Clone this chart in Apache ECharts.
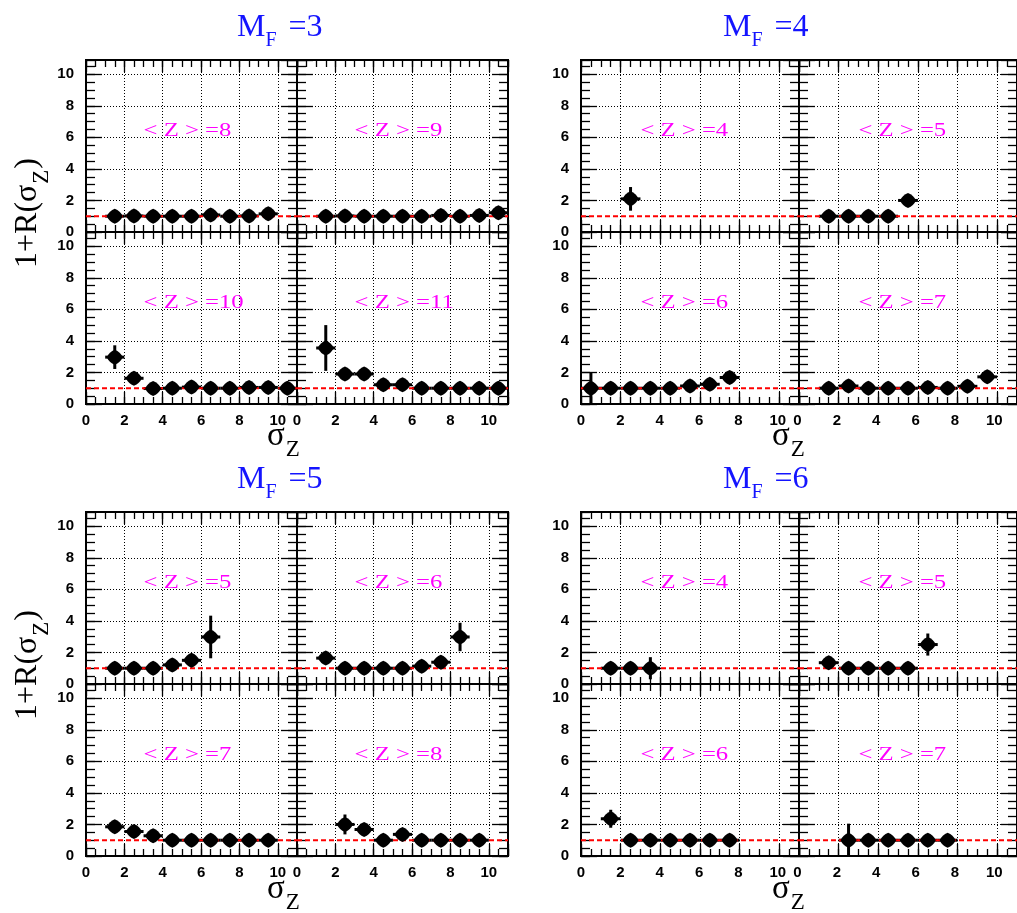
<!DOCTYPE html>
<html>
<head>
<meta charset="utf-8">
<script src="https://cdn.jsdelivr.net/npm/echarts@6.0.0/dist/echarts.min.js"></script>
<style>
html,body{margin:0;padding:0;background:#ffffff;}
#chart{width:1017px;height:913px;}
</style>
</head>
<body>
<div id="chart"></div>
<script>
// ---------------- data ----------------
// bin centres (sigma_Z), values 1+R(sigma_Z), vertical errors
const mf3_z8_x  = [1.5, 2.5, 3.5, 4.5, 5.5, 6.5, 7.5, 8.5, 9.5];
const mf3_z8_y  = [1.0, 1.02, 1.0, 1.0, 1.0, 1.08, 1.0, 1.02, 1.15];
const mf3_z8_e  = [0.15, 0.15, 0.15, 0.15, 0.15, 0.2, 0.15, 0.2, 0.25];

const mf3_z9_x  = [1.5, 2.5, 3.5, 4.5, 5.5, 6.5, 7.5, 8.5, 9.5, 10.5];
const mf3_z9_y  = [1.0, 1.02, 1.0, 1.0, 1.0, 1.0, 1.05, 1.0, 1.05, 1.22];
const mf3_z9_e  = [0.2, 0.15, 0.15, 0.15, 0.15, 0.15, 0.2, 0.15, 0.2, 0.3];

const mf3_z10_x = [1.5, 2.5, 3.5, 4.5, 5.5, 6.5, 7.5, 8.5, 9.5, 10.5];
const mf3_z10_y = [2.97, 1.63, 0.98, 1.0, 1.07, 1.0, 1.0, 1.05, 1.05, 1.0];
const mf3_z10_e = [0.75, 0.3, 0.2, 0.2, 0.2, 0.2, 0.2, 0.25, 0.25, 0.2];

const mf3_z11_x = [1.5, 2.5, 3.5, 4.5, 5.5, 6.5, 7.5, 8.5, 9.5, 10.5];
const mf3_z11_y = [3.55, 1.9, 1.9, 1.22, 1.22, 1.0, 1.0, 1.0, 1.0, 1.0];
const mf3_z11_e = [1.45, 0.2, 0.2, 0.2, 0.2, 0.15, 0.15, 0.15, 0.15, 0.15];

const mf4_z4_x  = [2.5];
const mf4_z4_y  = [2.1];
const mf4_z4_e  = [0.75];

const mf4_z5_x  = [1.5, 2.5, 3.5, 4.5, 5.5];
const mf4_z5_y  = [1.0, 1.0, 1.0, 1.0, 2.0];
const mf4_z5_e  = [0.2, 0.2, 0.2, 0.2, 0.25];

const mf4_z6_x  = [0.5, 1.5, 2.5, 3.5, 4.5, 5.5, 6.5, 7.5];
const mf4_z6_y  = [1.0, 1.0, 1.0, 1.0, 1.0, 1.14, 1.25, 1.68];
const mf4_z6_e  = [1.0, 0.2, 0.2, 0.2, 0.2, 0.25, 0.3, 0.3];

const mf4_z7_x  = [1.5, 2.5, 3.5, 4.5, 5.5, 6.5, 7.5, 8.5, 9.5];
const mf4_z7_y  = [1.0, 1.14, 1.0, 1.0, 1.0, 1.05, 1.0, 1.12, 1.72];
const mf4_z7_e  = [0.2, 0.3, 0.2, 0.2, 0.2, 0.25, 0.2, 0.3, 0.3];

const mf5_z5_x  = [1.5, 2.5, 3.5, 4.5, 5.5, 6.5];
const mf5_z5_y  = [1.0, 1.0, 1.0, 1.21, 1.5, 2.98];
const mf5_z5_e  = [0.2, 0.2, 0.2, 0.3, 0.3, 1.35];

const mf5_z6_x  = [1.5, 2.5, 3.5, 4.5, 5.5, 6.5, 7.5, 8.5];
const mf5_z6_y  = [1.64, 1.0, 1.0, 1.0, 1.0, 1.13, 1.38, 2.98];
const mf5_z6_e  = [0.3, 0.2, 0.2, 0.2, 0.2, 0.25, 0.25, 0.9];

const mf5_z7_x  = [1.5, 2.5, 3.5, 4.5, 5.5, 6.5, 7.5, 8.5, 9.5];
const mf5_z7_y  = [1.85, 1.55, 1.28, 1.0, 1.0, 1.0, 1.0, 1.0, 1.0];
const mf5_z7_e  = [0.35, 0.3, 0.3, 0.2, 0.2, 0.2, 0.2, 0.2, 0.2];

const mf5_z8_x  = [2.5, 3.5, 4.5, 5.5, 6.5, 7.5, 8.5, 9.5];
const mf5_z8_y  = [2.0, 1.68, 1.0, 1.37, 1.0, 1.0, 1.0, 1.0];
const mf5_z8_e  = [0.63, 0.3, 0.2, 0.25, 0.2, 0.2, 0.2, 0.2];

const mf6_z4_x  = [1.5, 2.5, 3.5];
const mf6_z4_y  = [1.0, 1.0, 1.0];
const mf6_z4_e  = [0.25, 0.25, 0.7];

const mf6_z5_x  = [1.5, 2.5, 3.5, 4.5, 5.5, 6.5];
const mf6_z5_y  = [1.35, 1.0, 1.0, 1.0, 1.0, 2.5];
const mf6_z5_e  = [0.3, 0.2, 0.2, 0.2, 0.2, 0.7];

const mf6_z6_x  = [1.5, 2.5, 3.5, 4.5, 5.5, 6.5, 7.5];
const mf6_z6_y  = [2.36, 1.0, 1.0, 1.0, 1.0, 1.0, 1.0];
const mf6_z6_e  = [0.57, 0.2, 0.2, 0.2, 0.2, 0.2, 0.2];

const mf6_z7_x  = [2.5, 3.5, 4.5, 5.5, 6.5, 7.5];
const mf6_z7_y  = [1.0, 1.0, 1.0, 1.0, 1.0, 1.0];
const mf6_z7_e  = [1.05, 0.2, 0.2, 0.2, 0.2, 0.2];

// group titles (M_F) and panel labels (<Z>)
const mfValues = [3, 4, 5, 6];
const zValues  = [[8, 9, 10, 11], [4, 5, 6, 7], [5, 6, 7, 8], [4, 5, 6, 7]];

// axis settings
const sigmaRange   = [0, 11];
const ratioRange   = [0, 10.9];
const majorStep    = 2;
const minorStep    = 0.5;
const binHalfWidth = 0.5;   // horizontal error bar = half bin width
const refLevel     = 1;     // red dashed reference line
const labelAnchor  = [3, 6.4];

const panelData = [
  [mf3_z8_x, mf3_z8_y, mf3_z8_e],   [mf3_z9_x, mf3_z9_y, mf3_z9_e],
  [mf3_z10_x, mf3_z10_y, mf3_z10_e],[mf3_z11_x, mf3_z11_y, mf3_z11_e],
  [mf4_z4_x, mf4_z4_y, mf4_z4_e],   [mf4_z5_x, mf4_z5_y, mf4_z5_e],
  [mf4_z6_x, mf4_z6_y, mf4_z6_e],   [mf4_z7_x, mf4_z7_y, mf4_z7_e],
  [mf5_z5_x, mf5_z5_y, mf5_z5_e],   [mf5_z6_x, mf5_z6_y, mf5_z6_e],
  [mf5_z7_x, mf5_z7_y, mf5_z7_e],   [mf5_z8_x, mf5_z8_y, mf5_z8_e],
  [mf6_z4_x, mf6_z4_y, mf6_z4_e],   [mf6_z5_x, mf6_z5_y, mf6_z5_e],
  [mf6_z6_x, mf6_z6_y, mf6_z6_e],   [mf6_z7_x, mf6_z7_y, mf6_z7_e]
];

// ---------------- layout ----------------
const SERIF = '"Liberation Serif","Times New Roman",serif';
const SANS  = '"Liberation Sans",Arial,Helvetica,sans-serif';
const colEdges = [[86, 297, 508], [581, 799, 1017]];
const rowEdges = [[60, 232, 404], [512, 684, 856]];
const titleLeft = [237, 723];
const titleBase = [38, 490];
const xNameLeft = [267, 772];
const xNameBase = [448, 901];
const yNameX = 38;
const yNameStart = [268, 720];

const TITLE_COLOR = '#1414ff';
const LABEL_COLOR = '#ff00ff';

const grids = [], xAxes = [], yAxes = [], series = [];
const MARKER = 'path://M0,-8 Q5.6,-5.6 8,0 Q5.6,5.6 0,8 Q-5.6,5.6 -8,0 Q-5.6,-5.6 0,-8 Z';

function isEven(v) { return Math.abs(v / majorStep - Math.round(v / majorStep)) < 1e-9; }
function evenLabel(v) { return isEven(v) ? String(Math.round(v)) : ''; }
// shared sigma_Z scale under a pair of panels: [0,11] then [0,11] again
function pairLabel(v) {
  const span = sigmaRange[1] - sigmaRange[0];
  const local = v < span - 1e-9 ? v : v - span;
  return evenLabel(local);
}

const LABEL_FONT = { color: '#000', fontSize: 15, fontWeight: 'bold', fontFamily: SANS };

function makeAxis(kind, gi, pos, major, showLabel) {
  const isX = kind === 'x';
  const range = isX ? sigmaRange : ratioRange;
  return {
    type: 'value', gridIndex: gi, position: pos,
    min: range[0], max: range[1],
    interval: major ? majorStep : minorStep,
    axisLine: { show: true, onZero: false, lineStyle: { color: '#000', width: 2 } },
    axisTick: { show: true, inside: true,
      length: isX ? (major ? 12 : 7) : (major ? 16 : 9),
      lineStyle: { color: '#000', width: 1.3 } },
    axisLabel: Object.assign({ show: showLabel, margin: 12, formatter: evenLabel,
      hideOverlap: false, showMinLabel: true, showMaxLabel: false }, LABEL_FONT),
    splitLine: { show: major && (pos === 'bottom' || pos === 'left'),
      lineStyle: { color: '#000', width: 1, type: [1, 2] } },
    minorTick: { show: false }, minorSplitLine: { show: false }
  };
}

for (let i = 0; i < 16; i++) {
  const g = Math.floor(i / 4), k = i % 4;
  const gx = g % 2, gy = Math.floor(g / 2);
  const c = k % 2, r = Math.floor(k / 2);
  const L = colEdges[gx][c], R = colEdges[gx][c + 1];
  const T = rowEdges[gy][r], B = rowEdges[gy][r + 1];
  grids.push({ left: L, top: T, width: R - L, height: B - T, show: false });

  const xBase = xAxes.length, yBase = yAxes.length;
  xAxes.push(makeAxis('x', i, 'bottom', true, false));
  xAxes.push(makeAxis('x', i, 'bottom', false, false));
  xAxes.push(makeAxis('x', i, 'top', true, false));
  xAxes.push(makeAxis('x', i, 'top', false, false));
  yAxes.push(makeAxis('y', i, 'left', true, c === 0));
  yAxes.push(makeAxis('y', i, 'left', false, false));
  yAxes.push(makeAxis('y', i, 'right', true, false));
  yAxes.push(makeAxis('y', i, 'right', false, false));

  const [xs, ys, es] = panelData[i];
  const pts = xs.map((xv, j) => [xv, ys[j], es[j]]);

  series.push({
    type: 'custom', xAxisIndex: xBase, yAxisIndex: yBase, z: 2, silent: true,
    data: pts,
    renderItem: function (params, api) {
      const x = api.value(0), y = api.value(1), e = api.value(2);
      const lo = api.coord([x, Math.max(ratioRange[0], y - e)]);
      const hi = api.coord([x, Math.min(ratioRange[1], y + e)]);
      const l = api.coord([x - binHalfWidth, y]);
      const rr = api.coord([x + binHalfWidth, y]);
      return { type: 'group', children: [
        { type: 'line', shape: { x1: lo[0], y1: lo[1], x2: hi[0], y2: hi[1] },
          style: { stroke: '#000', lineWidth: 3 } },
        { type: 'line', shape: { x1: l[0], y1: l[1], x2: rr[0], y2: rr[1] },
          style: { stroke: '#000', lineWidth: 3 } }
      ] };
    }
  });
  series.push({
    type: 'line', xAxisIndex: xBase, yAxisIndex: yBase, z: 3, silent: true,
    data: [[sigmaRange[0], refLevel], [sigmaRange[1], refLevel]],
    showSymbol: false, symbol: 'none',
    lineStyle: { color: '#ff0000', width: 2, type: [5, 3] }
  });
  series.push({
    type: 'scatter', xAxisIndex: xBase, yAxisIndex: yBase, z: 4, silent: true,
    data: pts.map(p => [p[0], p[1]]),
    symbol: MARKER, symbolSize: [16, 15],
    itemStyle: { color: '#000', opacity: 1 }
  });
}

// one label-only axis under each pair of bottom panels (both panels share the pixel scale)
for (let g = 0; g < 4; g++) {
  const gx = g % 2, gy = Math.floor(g / 2);
  const gi = grids.length;
  const L = colEdges[gx][0], R = colEdges[gx][2];
  const T = rowEdges[gy][1], B = rowEdges[gy][2];
  grids.push({ left: L, top: T, width: R - L, height: B - T, show: false });
  const span = sigmaRange[1] - sigmaRange[0];
  xAxes.push({
    type: 'value', gridIndex: gi, position: 'bottom',
    min: sigmaRange[0], max: sigmaRange[0] + 2 * span, interval: 1,
    axisLine: { show: false, onZero: false }, axisTick: { show: false },
    splitLine: { show: false },
    axisLabel: Object.assign({ show: true, margin: 9, formatter: pairLabel,
      hideOverlap: false, showMinLabel: true, showMaxLabel: true }, LABEL_FONT)
  });
  yAxes.push({ type: 'value', gridIndex: gi, show: false, min: ratioRange[0], max: ratioRange[1] });
}

const chart = echarts.init(document.getElementById('chart'), null, { renderer: 'canvas' });
chart.setOption({
  animation: false,
  backgroundColor: '#ffffff',
  grid: grids, xAxis: xAxes, yAxis: yAxes, series: series
});

// ---------------- text decorations ----------------
const mctx = document.createElement('canvas').getContext('2d');
function tw(str, size) { mctx.font = size + 'px ' + SERIF; return mctx.measureText(str).width; }
function glyph(str, size, x, baseline, color) {
  return { type: 'text', x: x, y: baseline - 0.34 * size, silent: true,
    style: { text: str, font: size + 'px ' + SERIF, fill: color,
      textAlign: 'left', textVerticalAlign: 'middle' } };
}

const graphics = [];
for (let g = 0; g < 4; g++) {
  const gx = g % 2, gy = Math.floor(g / 2);
  // title M_F =n
  const wM = tw('M', 32), wF = tw('F', 20);
  graphics.push({ type: 'group', x: titleLeft[gx], y: titleBase[gy], children: [
    glyph('M', 32, 0, 0, TITLE_COLOR),
    glyph('F', 20, wM, 10, TITLE_COLOR),
    glyph('=' + mfValues[g], 32, wM + wF + 12, 0, TITLE_COLOR)
  ] });
  // x axis name sigma_Z
  const wS = tw('\u03c3', 33);
  graphics.push({ type: 'group', x: xNameLeft[gx], y: xNameBase[gy], children: [
    glyph('\u03c3', 33, 0, 0, '#000'),
    glyph('Z', 23, wS + 1, 10, '#000')
  ] });
}
for (let h = 0; h < 2; h++) {
  const w1 = tw('1+R(\u03c3', 32), wZ = tw('Z', 23);
  graphics.push({ type: 'group', x: yNameX, y: yNameStart[h], rotation: Math.PI / 2, children: [
    glyph('1+R(\u03c3', 32, 0, 0, '#000'),
    glyph('Z', 23, w1 + 1, 12, '#000'),
    glyph(')', 32, w1 + wZ + 2, 0, '#000')
  ] });
}
for (let i = 0; i < 16; i++) {
  const g = Math.floor(i / 4), k = i % 4;
  const p = chart.convertToPixel({ xAxisIndex: i * 4, yAxisIndex: i * 4 }, labelAnchor);
  graphics.push({ type: 'text', x: p[0], y: p[1], scaleX: 1.3, silent: true,
    style: { text: '< Z > =' + zValues[g][k], font: '19px ' + SERIF, fill: LABEL_COLOR,
      textAlign: 'left', textVerticalAlign: 'middle' } });
}
chart.setOption({ graphic: graphics });
</script>
</body>
</html>
